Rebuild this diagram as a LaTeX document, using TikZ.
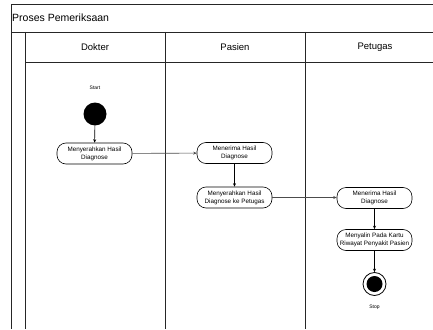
\documentclass[tikz,border=0pt]{standalone}
\usepackage{fontspec}
\setmainfont{Liberation Sans}
\usetikzlibrary{arrows.meta}
\begin{document}
\begin{tikzpicture}[x=1pt,y=-1pt,
  frame/.style={line width=0.9pt,draw=black!85},
  act/.style={draw,rounded corners=9pt,line width=0.6pt,minimum width=75pt,minimum height=21pt,align=center,font=\fontsize{6.3}{7.8}\selectfont,inner sep=0.5pt},
  flow/.style={line width=0.6pt,-{Stealth[length=3.5pt,width=3pt]}},
  lbl/.style={font=\fontsize{5}{6}\selectfont},
  head/.style={font=\fontsize{9.5}{11}\selectfont}]
\useasboundingbox (0,0) rectangle (433,329);
\fill[white] (0,0) rectangle (433,329);
% frame
\draw[frame] (433,4) -- (11,4) -- (11,329);
\draw[frame] (11,32) -- (433,32);
\draw[frame] (25,32) -- (25,329);
\draw[frame] (25,62) -- (433,62);
\draw[frame] (165,32) -- (165,329);
\draw[frame] (305,32) -- (305,329);
\node[anchor=west,font=\fontsize{10.5}{12}\selectfont,inner sep=0pt] (title) at (12,18) {Proses Pemeriksaan};
\node[head] (h1) at (95,47) {Dokter};
\node[head] (h2) at (235,47) {Pasien};
\node[head] (h3) at (375,47) {Petugas};
% start
\node[lbl] (startl) at (95,88) {Start};
\node[circle,fill=black,minimum size=23pt,inner sep=0pt] (start) at (95,114) {};
\node[act] (a1) at (94.5,153.5) {Menyerahkan Hasil\\Diagnose};
\node[act] (a2) at (234.5,153) {Menerima Hasil\\Diagnose};
\node[act] (a3) at (234.5,197.5) {Menyerahkan Hasil\\Diagnose ke Petugas};
\node[act] (a4) at (374.5,198) {Menerima Hasil\\Diagnose};
\node[act] (a5) at (374.5,240) {Menyalin Pada Kartu\\Riwayat Penyakit Pasien};
\node[circle,draw,line width=0.8pt,minimum size=23pt,inner sep=0pt] (stop) at (374.5,284) {};
\node[circle,fill=black,minimum size=16pt,inner sep=0pt] (stopin) at (stop) {};
\node[lbl] (stopl) at (374.5,307) {Stop};
% flows
\draw[flow] (start) -- (a1);
\draw[flow,draw=black!70] (a1) -- (a2);
\draw[flow] (a2) -- (a3);
\draw[flow,draw=black!70] (a3.east) -- (a4.west |- a3.east);
\draw[flow] (a4) -- (a5);
\draw[flow] (a5) -- (stop);
\end{tikzpicture}
\end{document}
